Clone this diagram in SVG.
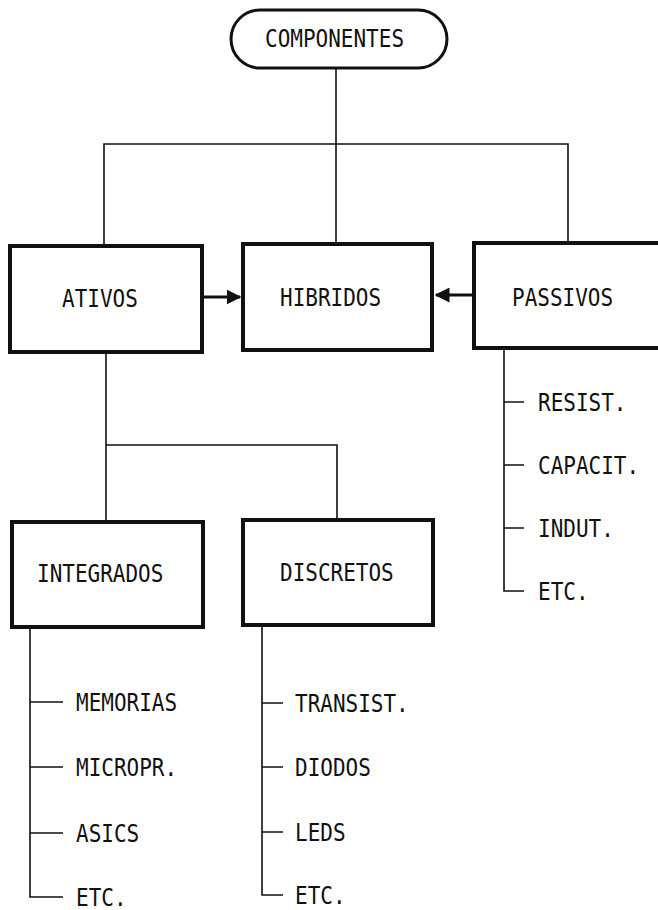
<svg xmlns="http://www.w3.org/2000/svg" width="658" height="910" viewBox="0 0 658 910">
  <style>
    .box { fill: #fff; stroke: #111; stroke-width: 4; }
    .pill { fill: #fff; stroke: #111; stroke-width: 3; }
    .wire { fill: none; stroke: #111; stroke-width: 1.6; }
    .arrow { fill: none; stroke: #111; stroke-width: 3; }
    .lbl { font-family: "DejaVu Sans Mono", "Liberation Mono", monospace; font-size: 21px; fill: #111; }
  </style>
  <defs>
    <marker id="head" markerWidth="5" markerHeight="5" refX="4.5" refY="2.5" orient="auto" markerUnits="strokeWidth">
      <path d="M0,0 L5,2.5 L0,5 Z" fill="#111"/>
    </marker>
  </defs>
  <rect width="658" height="910" fill="#fff"/>

  <!-- connectors -->
  <g id="connectors">
    <path class="wire" d="M336,68 V244"/>
    <path class="wire" d="M104,244 V144 H568 V243"/>
    <path class="wire" d="M106,352 V522 M106,445 H337 V520"/>
    <path class="arrow" d="M202,297 H240" marker-end="url(#head)"/>
    <path class="arrow" d="M474,295 H436" marker-end="url(#head)"/>
    <!-- PASSIVOS list -->
    <path class="wire" d="M504,348 V591 H524 M504,402 H524 M504,465 H524 M504,528 H524"/>
    <!-- INTEGRADOS list -->
    <path class="wire" d="M30,627 V897 H63 M30,702 H63 M30,767 H63 M30,833 H63"/>
    <!-- DISCRETOS list -->
    <path class="wire" d="M262,625 V895 H283 M262,703 H283 M262,767 H283 M262,832 H283"/>
  </g>

  <!-- labels are stretched vertically (scale 1,1.2) for the tall narrow lettering -->
  <g id="componentes">
    <rect class="pill" x="231" y="10" width="216" height="58" rx="29" ry="29"/>
    <text class="lbl" transform="translate(265,47) scale(1,1.2)">COMPONENTES</text>
  </g>
  <g id="ativos">
    <rect class="box" x="10" y="246" width="192" height="106"/>
    <text class="lbl" transform="translate(62,307) scale(1,1.2)">ATIVOS</text>
  </g>
  <g id="hibridos">
    <rect class="box" x="243" y="244" width="189" height="106"/>
    <text class="lbl" transform="translate(280,306) scale(1,1.2)">HIBRIDOS</text>
  </g>
  <g id="passivos">
    <rect class="box" x="474" y="243" width="200" height="105"/>
    <text class="lbl" transform="translate(512,306) scale(1,1.2)">PASSIVOS</text>
  </g>
  <g id="integrados">
    <rect class="box" x="12" y="522" width="191" height="105"/>
    <text class="lbl" transform="translate(37,582) scale(1,1.2)">INTEGRADOS</text>
  </g>
  <g id="discretos">
    <rect class="box" x="243" y="520" width="190" height="105"/>
    <text class="lbl" transform="translate(280,581) scale(1,1.2)">DISCRETOS</text>
  </g>

  <g id="passivos-items">
    <text class="lbl" transform="translate(538,411) scale(1,1.2)">RESIST.</text>
    <text class="lbl" transform="translate(538,474) scale(1,1.2)">CAPACIT.</text>
    <text class="lbl" transform="translate(538,537) scale(1,1.2)">INDUT.</text>
    <text class="lbl" transform="translate(538,600) scale(1,1.2)">ETC.</text>
  </g>
  <g id="integrados-items">
    <text class="lbl" transform="translate(76,711) scale(1,1.2)">MEMORIAS</text>
    <text class="lbl" transform="translate(76,776) scale(1,1.2)">MICROPR.</text>
    <text class="lbl" transform="translate(76,842) scale(1,1.2)">ASICS</text>
    <text class="lbl" transform="translate(76,906) scale(1,1.2)">ETC.</text>
  </g>
  <g id="discretos-items">
    <text class="lbl" transform="translate(295,712) scale(1,1.2)">TRANSIST.</text>
    <text class="lbl" transform="translate(295,776) scale(1,1.2)">DIODOS</text>
    <text class="lbl" transform="translate(295,841) scale(1,1.2)">LEDS</text>
    <text class="lbl" transform="translate(295,904) scale(1,1.2)">ETC.</text>
  </g>
</svg>
